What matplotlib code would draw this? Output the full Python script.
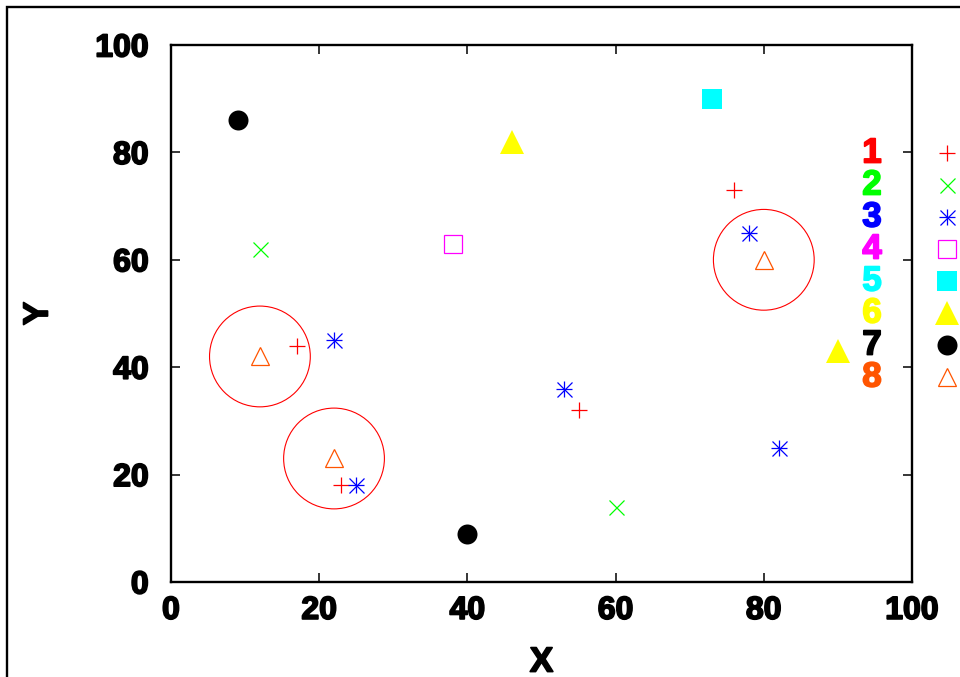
# Grafico de pontos no estilo gnuplot
import matplotlib
matplotlib.use('Agg')
import matplotlib.pyplot as plt
import matplotlib.patheffects as pe
from matplotlib.patches import Ellipse, Rectangle

plt.rcParams['font.family'] = ['Liberation Sans', 'DejaVu Sans']
plt.rcParams['font.weight'] = 'bold'

# Dados
s1_x = [17, 23, 55, 76]
s1_y = [44, 18, 32, 73]
s2_x = [12, 60]
s2_y = [62, 14]
s3_x = [22, 25, 53, 78, 82]
s3_y = [45, 18, 36, 65, 25]
s4_x = [38]
s4_y = [63]
s5_x = [73]
s5_y = [90]
s6_x = [46, 90]
s6_y = [82, 43]
s7_x = [9, 40]
s7_y = [86, 9]
s8_x = [12, 22, 80]
s8_y = [42, 23, 60]
raio = 6.8  # raio dos circulos em unidades de x

rotulos = ['1', '2', '3', '4', '5', '6', '7', '8']
cores = ['#ff0000', '#00ff00', '#0000ff', '#ff00ff', '#00ffff', '#ffff00', '#000000', '#ff5500']

# contorno para deixar o texto mais "pesado"
def grosso(cor='black'):
    return [pe.withStroke(linewidth=1.3, foreground=cor)]

fig = plt.figure(figsize=(9.6, 6.77), dpi=100)
ax = fig.add_axes([171 / 960, 95 / 677, 741 / 960, 537 / 677])

ms = 12
lw_m = 0.9
ax.plot(s1_x, s1_y, ls='none', marker='+', ms=ms, mew=lw_m, color=cores[0])
ax.plot(s2_x, s2_y, ls='none', marker='x', ms=ms * 0.9, mew=lw_m, color=cores[1])
ax.plot(s3_x, s3_y, ls='none', marker='+', ms=ms, mew=lw_m, color=cores[2])
ax.plot(s3_x, s3_y, ls='none', marker='x', ms=ms * 0.9, mew=lw_m, color=cores[2])
ax.plot(s4_x, s4_y, ls='none', marker='s', ms=ms * 1.05, mew=lw_m, mfc='none', color=cores[3])
ax.plot(s5_x, s5_y, ls='none', marker='s', ms=ms * 1.15, mew=0, color=cores[4])
ax.plot(s6_x, s6_y, ls='none', marker='^', ms=ms * 1.4, mew=0, color=cores[5])
ax.plot(s7_x, s7_y, ls='none', marker='o', ms=ms * 1.2, mew=0, color=cores[6])
ax.plot(s8_x, s8_y, ls='none', marker='^', ms=ms * 1.1, mew=lw_m, mfc='none', color=cores[7])

# circulos em volta dos triangulos (redondos na tela)
proporcao = (741 / 100) / (537 / 100)
for cx, cy in zip(s8_x, s8_y):
    ax.add_patch(Ellipse((cx, cy), 2 * raio, 2 * raio * proporcao, fill=False,
                         edgecolor='#ff0000', lw=0.8))

ax.set_xlim(0, 100)
ax.set_ylim(0, 100)
ax.set_xticks(range(0, 101, 20))
ax.set_yticks(range(0, 101, 20))
ax.tick_params(direction='in', length=6.5, width=1.1, top=True, right=True,
               labelsize=23)
ax.tick_params(axis='x', pad=10)
ax.tick_params(axis='y', pad=16)
for lab in ax.get_xticklabels() + ax.get_yticklabels():
    lab.set_path_effects(grosso())
for sp in ax.spines.values():
    sp.set_linewidth(1.7)

ax.set_xlabel('X', fontsize=25, fontweight='bold', va='center', path_effects=grosso())
ax.xaxis.set_label_coords(0.5, -0.149)
ax.set_ylabel('Y', fontsize=25, fontweight='bold', va='center', path_effects=grosso())
ax.yaxis.set_label_coords(-0.1795, 0.5)

# legenda manual (numeros coloridos + marcadores)
leg_y0 = (582 - 153) / 537
passo = 32 / 537
num_x = (872 - 171) / 741
mk_x = (947 - 171) / 741
marcadores = [('+', 'full'), ('x', 'full'), ('*', 'full'), ('s', 'none'),
              ('s', 'full'), ('^', 'full'), ('o', 'full'), ('^', 'none')]
for i, (rot, cor, (mk, fill)) in enumerate(zip(rotulos, cores, marcadores)):
    yy = leg_y0 - i * passo
    ax.text(num_x, yy, rot, color=cor, fontsize=25, fontweight='bold',
            ha='center', va='center', transform=ax.transAxes, path_effects=grosso(cor))
    kw = dict(ls='none', transform=ax.transAxes, clip_on=False, color=cor, mew=lw_m)
    if mk == '*':
        ax.plot([mk_x], [yy], marker='+', ms=ms, **kw)
        ax.plot([mk_x], [yy], marker='x', ms=ms * 0.9, **kw)
    elif mk == '+':
        ax.plot([mk_x], [yy], marker='+', ms=ms, **kw)
    elif mk == 'x':
        ax.plot([mk_x], [yy], marker='x', ms=ms * 0.9, **kw)
    elif fill == 'none':
        ax.plot([mk_x], [yy], marker=mk, ms=ms * 1.08, mfc='none', **kw)
    else:
        tam = {'s': 1.15, '^': 1.4, 'o': 1.2}[mk]
        kw['mew'] = 0
        ax.plot([mk_x], [yy], marker=mk, ms=ms * tam, **kw)

# moldura da figura
fig.patches.append(Rectangle((7 / 960, -0.2), 1.2, 1 - 7 / 677 + 0.2, fill=False,
                             edgecolor='black', lw=1.7, transform=fig.transFigure))

fig.savefig('out.png', dpi=100)
